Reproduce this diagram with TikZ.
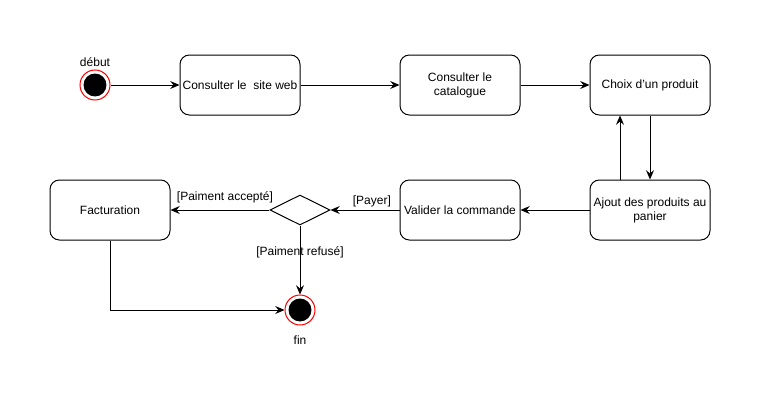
\documentclass[tikz,border=0pt]{standalone}
\usepackage{fontspec}
\setmainfont{Liberation Sans}
\usetikzlibrary{shapes.geometric,arrows.meta}
\begin{document}
\begin{tikzpicture}[x=0.75pt,y=0.75pt]
\tikzset{activite/.style={rectangle, rounded corners=7pt, draw=black, line width=0.75pt, minimum width=90pt, minimum height=45pt, align=center, inner sep=1pt, font=\fontsize{9}{10.5}\selectfont}}
\tikzset{etat/.style={circle, draw=red, fill=white, line width=0.75pt, minimum size=22.5pt, inner sep=0pt}}
\tikzset{fleche/.style={line width=0.75pt, -{Stealth[length=7pt,width=6pt,inset=2.5pt]}}}
\tikzset{garde/.style={font=\fontsize{9}{10.5}\selectfont, inner sep=2pt}}
\useasboundingbox (0,0) rectangle (761,401);
\node[etat] at (95, 316) (debut) {};
\fill (debut) circle (8.6pt);
\node[garde] at (95, 339) {début};
\node[activite] at (240, 316) (site) {Consulter le~ site web};
\node[activite] at (460, 316) (cata) {Consulter le\\catalogue};
\node[activite] at (650, 316) (choix) {Choix d'un produit};
\node[activite] at (650, 191) (ajout) {Ajout des produits au\\panier};
\node[activite] at (460, 191) (valid) {Valider la commande};
\node[diamond, draw=black, line width=0.75pt, minimum width=45pt, minimum height=22.5pt, inner sep=0pt] at (300, 191) (dec) {};
\node[activite] at (110, 191) (fact) {Facturation};
\node[etat] at (300, 91) (fin) {};
\fill (fin) circle (8.6pt);
\node[garde] at (300, 61) {fin};
			\draw [fleche] (debut) -- (site);
			\draw [fleche] (site) -- (cata);
			\draw [fleche] (cata) -- (choix);
			\draw [fleche] (choix) -- (ajout);
			\draw [fleche] ([xshift=-22.5pt]ajout.north) -- ([xshift=-22.5pt]choix.south);
			\draw [fleche] (ajout) -- (valid);

			% Gardes
			\draw [fleche] (valid) -- node[garde, above, pos=0.4] {[Payer]} (dec);
			\draw [fleche] (dec) -- node[garde, above, pos=0.45, yshift=3pt] {[Paiment accepté]} (fact);
			\draw [fleche] (dec) -- node[garde, pos=0.39] {[Paiment refusé]} (fin);
			\draw [fleche] (fact) |- (fin);
		\end{tikzpicture}
\end{document}
